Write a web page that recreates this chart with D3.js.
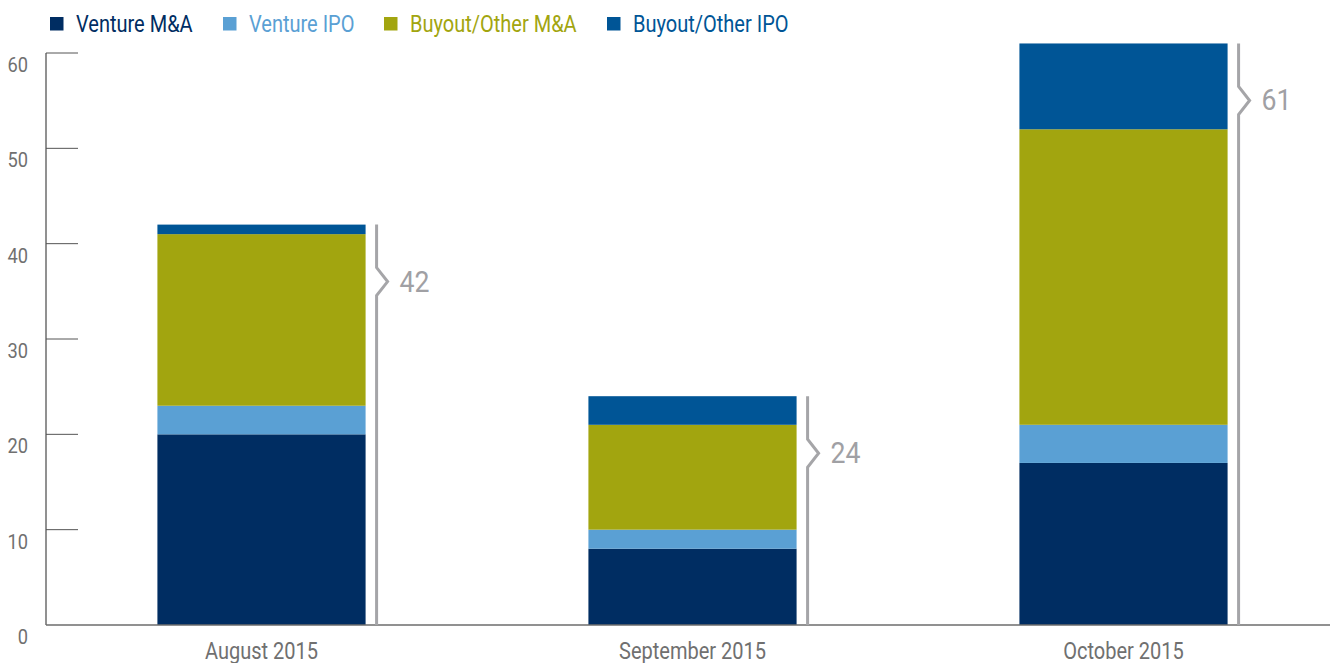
<!DOCTYPE html>
<html>
<head>
<meta charset="utf-8">
<script src="https://cdn.jsdelivr.net/npm/d3@7"></script>
<style>
  body { margin: 0; background: #fff; }
  svg { display: block; }
  text { font-family: "Roboto", "Liberation Sans", sans-serif; }
</style>
</head>
<body>
<svg id="chart" width="1330" height="663"></svg>
<script>
"use strict";

// months on the x axis
const months = ['August 2015', 'September 2015', 'October 2015'];

// series, bottom to top
const seriesNames = ['Venture M&A', 'Venture IPO', 'Buyout/Other M&A', 'Buyout/Other IPO'];
const seriesColors = ['#002d62', '#5aa0d4', '#a2a50f', '#005596'];

const ventureMA = [20, 8, 17];
const ventureIPO = [3, 2, 4];
const buyoutMA = [18, 11, 31];
const buyoutIPO = [1, 3, 9];

const totals = [42, 24, 61];
const yTicks = [0, 10, 20, 30, 40, 50, 60];

const width = 1330;
const margin = { left: 46, bottom: 625, top: 53 };

// the original uses a condensed face, so squeeze Roboto horizontally
const SQUEEZE = 0.87;
function place(x, y, sx) {
  return 'translate(' + x + ',' + y + ') scale(' + (sx || SQUEEZE) + ',1)';
}

const svg = d3.select('#chart');

// build rows for the stack
let rows = months.map((m, i) => ({
  month: m,
  'Venture M&A': ventureMA[i],
  'Venture IPO': ventureIPO[i],
  'Buyout/Other M&A': buyoutMA[i],
  'Buyout/Other IPO': buyoutIPO[i]
}));

let stacked = d3.stack().keys(seriesNames)(rows);

let x = d3.scaleBand()
  .domain(months)
  .range([margin.left, 1339])
  .paddingInner(0.517)
  .paddingOuter(0.2585);

let y = d3.scaleLinear().domain([0, 60]).range([margin.bottom, margin.top]);

let color = d3.scaleOrdinal().domain(seriesNames).range(seriesColors);

// bars
svg.append('g').selectAll('g')
  .data(stacked)
  .join('g')
  .attr('fill', (d) => color(d.key))
  .selectAll('rect')
  .data((d) => d)
  .join('rect')
  .attr('x', (d) => x(d.data.month))
  .attr('width', x.bandwidth())
  .attr('y', (d) => y(d[1]))
  .attr('height', (d) => y(d[0]) - y(d[1]));

// y axis: ticks point inward, labels sit just below each tick
let yAxis = svg.append('g').attr('transform', 'translate(' + margin.left + ',0)');
yAxis.append('line')
  .attr('x1', 0).attr('x2', 0)
  .attr('y1', y(60)).attr('y2', y(0))
  .attr('stroke', '#6d6d6d').attr('stroke-width', 1.5);
yAxis.selectAll('line.tick')
  .data(yTicks.filter((t) => t > 0))
  .join('line')
  .attr('class', 'tick')
  .attr('x1', 0).attr('x2', 32)
  .attr('y1', (d) => y(d)).attr('y2', (d) => y(d))
  .attr('stroke', '#555').attr('stroke-width', 1);
yAxis.selectAll('text')
  .data(yTicks)
  .join('text')
  .attr('transform', (d) => place(-18, y(d) + 19))
  .attr('text-anchor', 'end')
  .attr('fill', '#707070')
  .attr('font-size', 21)
  .text((d) => d);

// x axis
svg.append('line')
  .attr('x1', margin.left).attr('x2', width)
  .attr('y1', y(0)).attr('y2', y(0))
  .attr('stroke', '#6d6d6d').attr('stroke-width', 1.5);

svg.append('g').selectAll('text')
  .data(months)
  .join('text')
  .attr('transform', (d) => place(x(d) + x.bandwidth() / 2, y(0) + 34))
  .attr('text-anchor', 'middle')
  .attr('fill', '#707070')
  .attr('font-size', 23)
  .text((d) => d);

// total brackets with a chevron
let brackets = svg.append('g');
months.forEach((m, i) => {
  let bx = x(m) + x.bandwidth() + 11;
  let top = y(totals[i]);
  let tip = top + 57;
  let path = d3.path();
  path.moveTo(bx, top);
  path.lineTo(bx, tip - 14);
  path.lineTo(bx + 11, tip);
  path.lineTo(bx, tip + 14);
  path.lineTo(bx, y(0));
  brackets.append('path')
    .attr('d', path.toString())
    .attr('fill', 'none')
    .attr('stroke', '#a5a5a8')
    .attr('stroke-width', 3);
  brackets.append('text')
    .attr('transform', place(bx + 23, tip + 10, 0.92))
    .attr('fill', '#a0a0a4')
    .attr('font-size', 29)
    .text(totals[i]);
});

// legend
let legendX = [50, 223, 384, 607];
let legend = svg.append('g').selectAll('g')
  .data(seriesNames)
  .join('g')
  .attr('transform', (d, i) => 'translate(' + legendX[i] + ',0)');
legend.append('rect')
  .attr('x', 0).attr('y', 17)
  .attr('width', 13.5).attr('height', 13.5)
  .attr('fill', (d) => color(d));
legend.append('text')
  .attr('transform', place(26, 31.5))
  .attr('fill', (d) => color(d))
  .attr('font-size', 23)
  .text((d) => d);
</script>
</body>
</html>
